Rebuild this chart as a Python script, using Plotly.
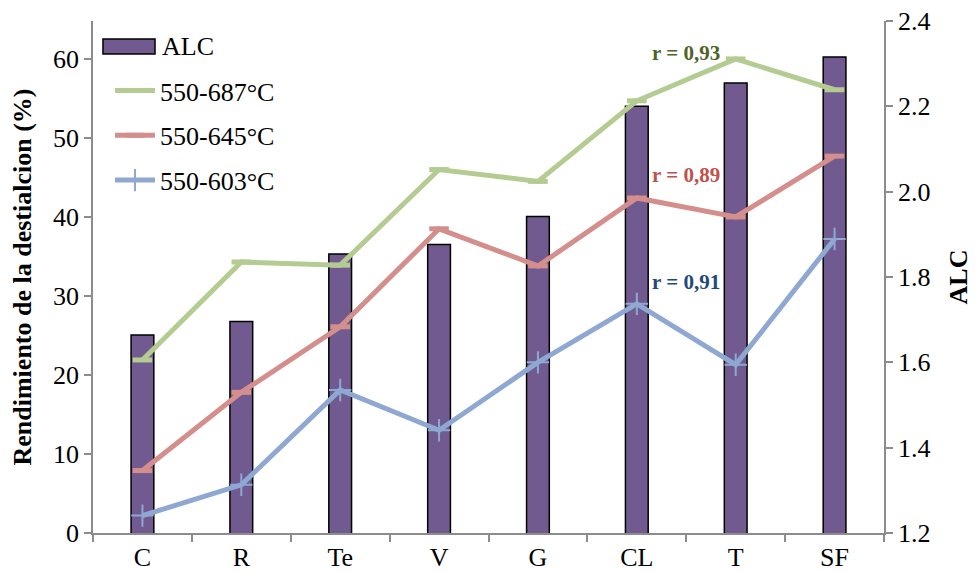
import plotly.graph_objects as go

categories = ["C", "R", "Te", "V", "G", "CL", "T", "SF"]
alc = [1.664, 1.696, 1.854, 1.876, 1.942, 2.20, 2.255, 2.316]
s687 = [21.9, 34.3, 33.9, 46.0, 44.5, 54.7, 60.0, 56.1]
s645 = [7.9, 17.8, 26.1, 38.5, 33.8, 42.4, 40.0, 47.7]
s603 = [2.2, 6.1, 18.1, 13.0, 21.6, 29.0, 21.3, 37.2]
left_ticks = [0, 10, 20, 30, 40, 50, 60]
right_ticks = [1.2, 1.4, 1.6, 1.8, 2.0, 2.2, 2.4]

FONT = "Liberation Serif"
purple = "#705a8f"
green = "#b4cc91"
red = "#d48e8c"
blue = "#8ea8d2"

fig = go.Figure()
fig.add_trace(go.Bar(x=categories, y=alc, name="ALC", yaxis="y",
                     marker=dict(color=purple, line=dict(color="black", width=1.5)),
                     width=0.23, showlegend=False))
fig.add_trace(go.Scatter(x=categories, y=s687, name="550-687°C", yaxis="y2",
                         mode="lines+markers", line=dict(color=green, width=5),
                         marker=dict(symbol="line-ew", size=14, line=dict(color=green, width=5)),
                         legendgroup="b", legendrank=2))
fig.add_trace(go.Scatter(x=categories, y=s645, name="550-645°C", yaxis="y2",
                         mode="lines+markers", line=dict(color=red, width=5),
                         marker=dict(symbol="line-ew", size=14, line=dict(color=red, width=5)),
                         legendgroup="c", legendrank=3))
fig.add_trace(go.Scatter(x=categories, y=s603, name="550-603°C", yaxis="y2",
                         mode="lines+markers", line=dict(color=blue, width=5),
                         marker=dict(symbol="cross-thin", size=16, line=dict(color=blue, width=2)),
                         legendgroup="d", legendrank=4))

annotations = [
    dict(text="<b>r = 0,93</b>", x=5.5, y=2.325, color="#4f6228"),
    dict(text="<b>r = 0,89</b>", x=5.5, y=2.038, color="#c0504d"),
    dict(text="<b>r = 0,91</b>", x=5.5, y=1.789, color="#1f497d"),
]
for a in annotations:
    fig.add_annotation(text=a["text"], x=a["x"], y=a["y"], xref="x", yref="y",
                       showarrow=False, xanchor="center", yanchor="middle",
                       font=dict(family=FONT, size=21, color=a["color"]))

# Legend entry for the bar series (wide rectangle swatch, as in the original)
fig.add_shape(type="rect", xref="paper", yref="paper",
              x0=0.0126, x1=0.0784, y0=0.9355, y1=0.9648,
              fillcolor=purple, line=dict(color="black", width=1.5), layer="above")
fig.add_annotation(text="ALC", xref="paper", yref="paper", x=0.0842, y=0.9501,
                   xanchor="left", yanchor="middle", showarrow=False,
                   font=dict(family=FONT, size=26, color="black"))

axis_common = dict(showgrid=False, zeroline=False, showline=True, linecolor="#8c8c8c",
                   linewidth=1.5, ticks="outside", ticklen=7, tickcolor="#8c8c8c", tickwidth=1.5,
                   automargin=False, ticklabeloverflow="allow",
                   tickfont=dict(family=FONT, size=26, color="black"))

# The page body has an 8px default margin, so the figure is sized to fit the window.
fig.update_layout(
    width=968, height=565,
    margin=dict(l=85, r=92, t=13, b=40),
    paper_bgcolor="white", plot_bgcolor="white",
    showlegend=True,
    legend=dict(x=0.0215, y=0.91, xanchor="left", yanchor="top", bgcolor="rgba(0,0,0,0)",
                font=dict(family=FONT, size=26, color="black"), tracegroupgap=8,
                itemwidth=40),
    xaxis=dict(**axis_common, tickson="boundaries", range=[-0.5, 7.5]),
    yaxis=dict(**axis_common, side="right", range=[1.2, 2.4001], tickvals=right_ticks,
               tickformat=".1f",
               title=dict(text="<b>ALC</b>", font=dict(family=FONT, size=26, color="black"),
                          standoff=19)),
    yaxis2=dict(**axis_common, side="left", overlaying="y", range=[0, 64.8],
                tickvals=left_ticks,
                title=dict(text="<b>Rendimiento de la destialcion (%)</b>",
                           font=dict(family=FONT, size=26, color="black"), standoff=16)),
)

fig.write_html("out.html")
